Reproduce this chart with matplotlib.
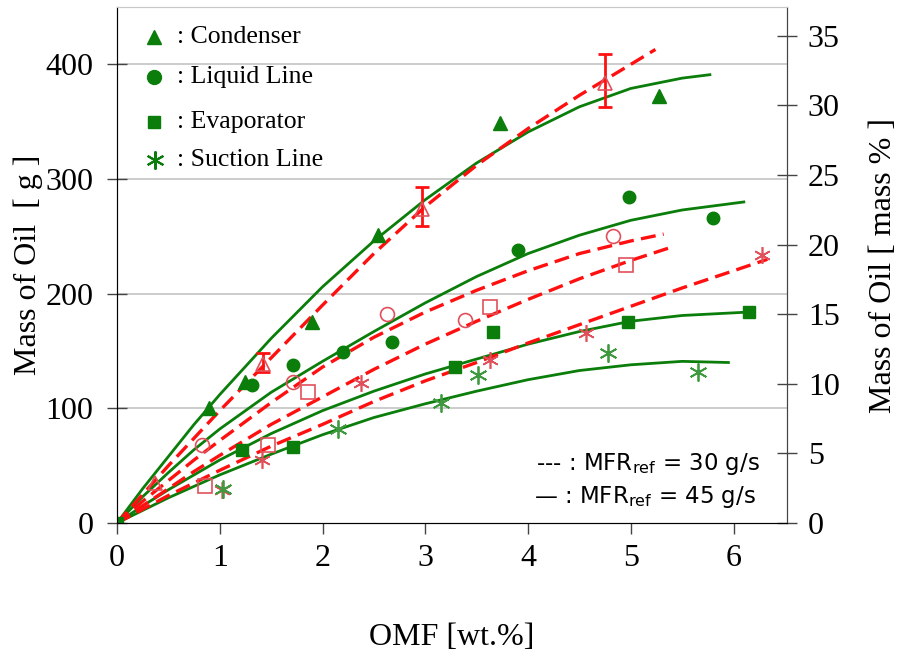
import numpy as np
import matplotlib.pyplot as plt

plt.rcParams['font.family'] = ['Liberation Serif', 'DejaVu Serif']

# measured points, 45 g/s (green, filled)
cond45_x = [0.9, 1.25, 1.9, 2.54, 3.73, 5.27]
cond45_y = [100, 123, 175, 251, 349, 372]
liq45_x = [1.31, 1.71, 2.2, 2.68, 3.9, 4.98, 5.8]
liq45_y = [120, 138, 149, 158, 238, 284, 266]
evap45_x = [0.0, 1.22, 1.71, 3.29, 3.66, 4.97, 6.15]
evap45_y = [0, 64, 66, 136, 167, 175, 184]
suc45_x = [1.03, 2.15, 3.15, 3.51, 4.78, 5.65]
suc45_y = [30, 82, 105, 129, 148, 132]

# measured points, 30 g/s (red, open)
cond30_x = [0.0, 0.37, 1.42, 2.97, 4.75]
cond30_y = [0, 35, 139, 274, 384]
cond30_err_x = [1.42, 2.97, 4.75]
cond30_err_y = [140, 276, 386]
cond30_err = [8, 17, 23]
liq30_x = [0.83, 1.71, 2.63, 3.39, 4.83]
liq30_y = [68, 123, 182, 177, 250]
evap30_x = [0.86, 1.47, 1.86, 3.63, 4.95]
evap30_y = [32, 68, 114, 188, 225]
suc30_x = [1.02, 1.41, 2.37, 3.63, 4.56, 6.28]
suc30_y = [29, 55, 122, 142, 166, 234]

# trend lines
cond45_fit_x = [0, 0.25, 0.5, 0.75, 1, 1.5, 2, 2.5, 3, 3.5, 4, 4.5, 5, 5.5, 5.77]
cond45_fit_y = [0, 30, 58, 86, 112, 161, 206, 246, 282, 314, 341, 363, 379, 388, 391]
liq45_fit_x = [0, 0.25, 0.5, 0.75, 1, 1.5, 2, 2.5, 3, 3.5, 4, 4.5, 5, 5.5, 6.1]
liq45_fit_y = [0, 23, 44, 64, 82, 114, 141, 167, 192, 215, 235, 251, 264, 273, 280]
evap45_fit_x = [0, 0.25, 0.5, 0.75, 1, 1.5, 2, 2.5, 3, 3.5, 4, 4.5, 5, 5.5, 6.15]
evap45_fit_y = [0, 15, 29, 42, 55, 78, 98, 115, 130, 143, 156, 167, 176, 181, 184]
suc45_fit_x = [0, 0.25, 0.5, 0.75, 1, 1.5, 2, 2.5, 3, 3.5, 4, 4.5, 5, 5.5, 5.95]
suc45_fit_y = [0, 11, 22, 32, 42, 60, 77, 92, 104, 115, 125, 133, 138, 141, 140]

cond30_fit_x = [0, 0.25, 0.5, 0.75, 1, 1.5, 2, 2.5, 3, 3.5, 4, 4.5, 5, 5.24]
cond30_fit_y = [0, 25, 50, 74, 98, 144, 190, 235, 276, 312, 344, 373, 400, 413]
liq30_fit_x = [0, 0.25, 0.5, 0.75, 1, 1.5, 2, 2.5, 3, 3.5, 4, 4.5, 5, 5.32]
liq30_fit_y = [0, 19, 37, 55, 72, 105, 136, 162, 184, 203, 220, 235, 246, 252]
evap30_fit_x = [0, 0.25, 0.5, 0.75, 1, 1.5, 2, 2.5, 3, 3.5, 4, 4.5, 5, 5.41]
evap30_fit_y = [0, 15, 30, 45, 59, 86, 110, 134, 156, 176, 195, 213, 229, 241]
suc30_fit_x = [0, 0.25, 0.5, 0.75, 1, 1.5, 2, 2.5, 3, 3.5, 4, 4.5, 5, 5.5, 6.0, 6.33]
suc30_fit_y = [0, 12, 24, 35, 46, 67, 86, 106, 124, 140, 157, 173, 189, 205, 220, 230]

green = '#0a7d0a'
red = '#ff1010'
pink = '#e0505a'
g_per_pct = 12.14

fig = plt.figure(figsize=(9, 6.52), dpi=100)
ax = fig.add_axes([0.13, 0.1978, 0.7444, 0.7914])

for v in [100, 200, 300, 400]:
    ax.axhline(v, color='#c8c8c8', lw=1.3, zorder=0)

asterisk = (6, 2, 0)
dash = (0, (4.5, 2.2))

for fx, fy in [(cond45_fit_x, cond45_fit_y), (liq45_fit_x, liq45_fit_y),
               (evap45_fit_x, evap45_fit_y), (suc45_fit_x, suc45_fit_y)]:
    ax.plot(fx, fy, color=green, lw=2.0, zorder=2, solid_joinstyle='round')
for fx, fy in [(cond30_fit_x, cond30_fit_y), (liq30_fit_x, liq30_fit_y),
               (evap30_fit_x, evap30_fit_y), (suc30_fit_x, suc30_fit_y)]:
    ax.plot(fx, fy, color=red, lw=2.4, ls=dash, zorder=3)

ax.errorbar(cond30_err_x, cond30_err_y, yerr=cond30_err, fmt='none',
            ecolor=red, elinewidth=2, capsize=5, capthick=2, zorder=4)

ax.plot(cond30_x, cond30_y, '^', ms=10, mfc='none', mec=pink, mew=1.2, zorder=4)
ax.plot(liq30_x, liq30_y, 'o', ms=10, mfc='none', mec=pink, mew=1.2, zorder=4)
ax.plot(evap30_x, evap30_y, 's', ms=10, mfc='none', mec=pink, mew=1.2, zorder=4)
ax.plot(suc30_x, suc30_y, marker=asterisk, ls='none', ms=12, mec=pink, mew=1.2, zorder=4)

ax.plot(cond45_x, cond45_y, '^', ms=10, color=green, zorder=5)
ax.plot(liq45_x, liq45_y, 'o', ms=9, color=green, zorder=5)
ax.plot(evap45_x, evap45_y, 's', ms=9, color=green, zorder=5)
ax.plot(suc45_x, suc45_y, marker=asterisk, ls='none', ms=13, mec='#3f9a3f', mew=1.3, zorder=5)

# marker key, top left
key_markers = ['^', 'o', 's', asterisk]
key_labels = [': Condenser', ': Liquid Line', ': Evaporator', ': Suction Line']
key_y = [0.942, 0.865, 0.778, 0.704]
for m, lab, yy in zip(key_markers, key_labels, key_y):
    if m == asterisk:
        ax.plot(0.057, yy, marker=m, ms=13, mec=green, mew=1.5, ls='none', transform=ax.transAxes)
    else:
        ax.plot(0.055, yy, marker=m, ms=10 if m != 's' else 9, color=green, ls='none', transform=ax.transAxes)
    ax.text(0.09, yy, lab, fontsize=18.5, va='center', ha='left', transform=ax.transAxes)

ax.text(0.625, 0.115, '--- : MFR$_{\\rm ref}$ = 30 g/s', fontsize=16.5, family='DejaVu Sans',
        va='center', ha='left', transform=ax.transAxes)
ax.text(0.622, 0.05, '\u2014 : MFR$_{\\rm ref}$ = 45 g/s', fontsize=16.5, family='DejaVu Sans',
        va='center', ha='left', transform=ax.transAxes)

ax.set_xlim(0, 6.52)
ax.set_ylim(0, 450)
ax.set_xticks(range(7))
ax.set_yticks([0, 100, 200, 300, 400])
ax.tick_params(axis='y', direction='inout', length=14, width=1, labelsize=23, pad=10, color='#444444')
ax.tick_params(axis='x', direction='out', length=8, width=1, labelsize=23, pad=7, color='#444444')
ax.set_xlabel('OMF [wt.%]', fontsize=23, labelpad=36)
ax.set_ylabel('Mass of Oil  [ g ]', fontsize=23, labelpad=2)
for s in ['left', 'bottom', 'right']:
    ax.spines[s].set_color('#444444')
ax.spines['top'].set_color('#c8c8c8')

ax2 = ax.twinx()
ax2.set_ylim(0, 450 / g_per_pct)
ax2.set_yticks(range(0, 40, 5))
ax2.tick_params(axis='y', direction='inout', length=14, width=1, labelsize=23, pad=8, color='#444444')
ax2.set_ylabel('Mass of Oil [ mass % ]', fontsize=23, labelpad=21)
ax2.spines['right'].set_color('#444444')
ax2.spines['top'].set_color('#c8c8c8')

fig.savefig('out.png', dpi=100)
